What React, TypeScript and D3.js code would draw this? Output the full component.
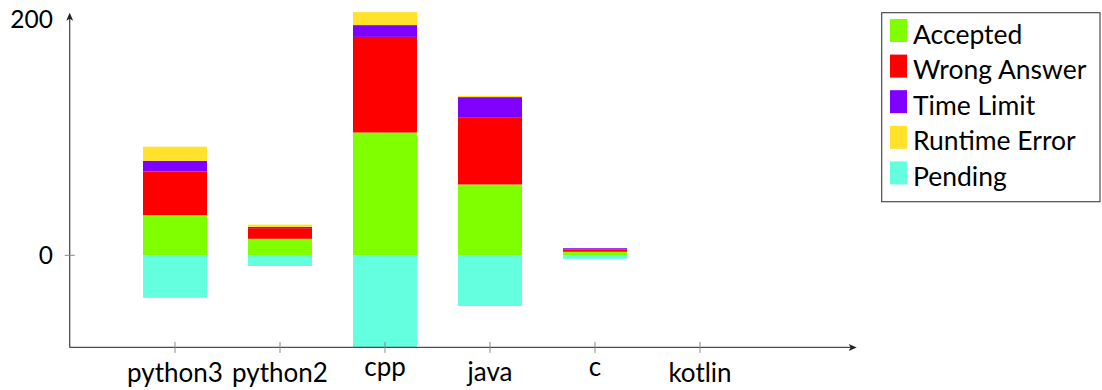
import React from "react";
import * as d3 from "d3";

const categories = ["python3", "python2", "cpp", "java", "c", "kotlin"];
const accepted = [34, 14, 104, 60, 3, 0];
const wrongAnswer = [37, 9, 81, 57, 2, 0];
const timeLimit = [9, 1, 10, 17, 1, 0];
const runtimeError = [12, 2, 11, 1, 0, 0];
const pending = [36, 9, 78, 43, 3, 0];
const yTicks = [0, 200];

const seriesNames = ["Accepted", "Wrong Answer", "Time Limit", "Runtime Error", "Pending"];
const seriesColors = ["#80ff00", "#ff0000", "#8000ff", "#ffe229", "#63ffde"];

const FONT = "Lato, 'Open Sans', sans-serif";
const AXIS = "#4d4d4d";

// approximate ink height (in em) of the tallest glyph, for north-anchored labels
function inkHeight(s: string): number {
  if (/[bdfhklt0-9A-Z]/.test(s)) return 0.7;
  if (/[ij]/.test(s)) return 0.67;
  return 0.48;
}

export default function App() {
  const width = 1102;
  const height = 390;
  const y = d3.scaleLinear().domain([0, 200]).range([255.3, 19.2]);
  const x = d3.scalePoint<string>().domain(categories).range([175, 700]);
  const barW = 64;
  const yMin = -d3.max(pending)!;
  const axisY = y(yMin);
  const axisX = 69.7;
  const xEnd = 856.7;
  const yTop = 12.7;

  const positives = [accepted, wrongAnswer, timeLimit, runtimeError];
  const rects: React.ReactNode[] = [];
  categories.forEach((c, i) => {
    let cum = 0;
    positives.forEach((arr, s) => {
      const v = arr[i];
      if (v > 0) {
        rects.push(
          <rect key={`${c}-${s}`} x={x(c)! - barW / 2} y={y(cum + v)} width={barW}
            height={y(cum) - y(cum + v)} fill={seriesColors[s]} />
        );
      }
      cum += v;
    });
    if (pending[i] > 0) {
      rects.push(
        <rect key={`${c}-p`} x={x(c)! - barW / 2} y={y(0)} width={barW}
          height={y(-pending[i]) - y(0)} fill={seriesColors[4]} />
      );
    }
  });

  const xFs = 26;
  const yFs = 24.5;
  const legFs = 26.5;
  const legX = 881.7;
  const legY = 12.7;
  const rowH = 35.6;

  return (
    <svg width={width} height={height} style={{ position: "absolute", left: 0, top: 0 }}
      fontFamily={FONT}>
      <rect width={width} height={height} fill="white" />
      {rects}
      {/* y axis */}
      <line x1={axisX} x2={axisX} y1={axisY} y2={yTop + 4} stroke={AXIS} strokeWidth={1.3} />
      <path d={`M${axisX},${yTop} L${axisX - 3.5},${yTop + 8} L${axisX},${yTop + 6} L${axisX + 3.5},${yTop + 8} Z`} fill="#222" />
      {/* x axis */}
      <line x1={axisX} x2={xEnd - 4} y1={axisY} y2={axisY} stroke={AXIS} strokeWidth={1.3} />
      <path d={`M${xEnd},${axisY} L${xEnd - 8},${axisY - 3.5} L${xEnd - 6},${axisY} L${xEnd - 8},${axisY + 3.5} Z`} fill="#222" />
      {/* y ticks */}
      {yTicks.map((t) => (
        <g key={t}>
          {t !== 200 && <line x1={axisX - 5} x2={axisX + 5} y1={y(t)} y2={y(t)} stroke="#888" strokeWidth={1} />}
          <text x={53} y={y(t) + 0.36 * yFs} fontSize={yFs} textAnchor="end" fill="#000">{t}</text>
        </g>
      ))}
      {/* x ticks */}
      {categories.map((c) => (
        <g key={c}>
          <line x1={x(c)} x2={x(c)} y1={axisY - 5.5} y2={axisY + 5.5} stroke="#888" strokeWidth={1} />
          <text x={x(c)} y={364 + inkHeight(c) * xFs} fontSize={xFs} textAnchor="middle" fill="#000">{c}</text>
        </g>
      ))}
      {/* legend */}
      <rect x={legX} y={legY} width={1100 - legX} height={201.7 - legY} fill="white" stroke={AXIS} strokeWidth={1.2} />
      {seriesNames.map((n, i) => (
        <g key={n}>
          <rect x={890} y={19 + i * rowH} width={17} height={23} fill={seriesColors[i]} />
          <text x={913} y={43.5 + i * rowH} fontSize={legFs} fill="#000">{n}</text>
        </g>
      ))}
    </svg>
  );
}
